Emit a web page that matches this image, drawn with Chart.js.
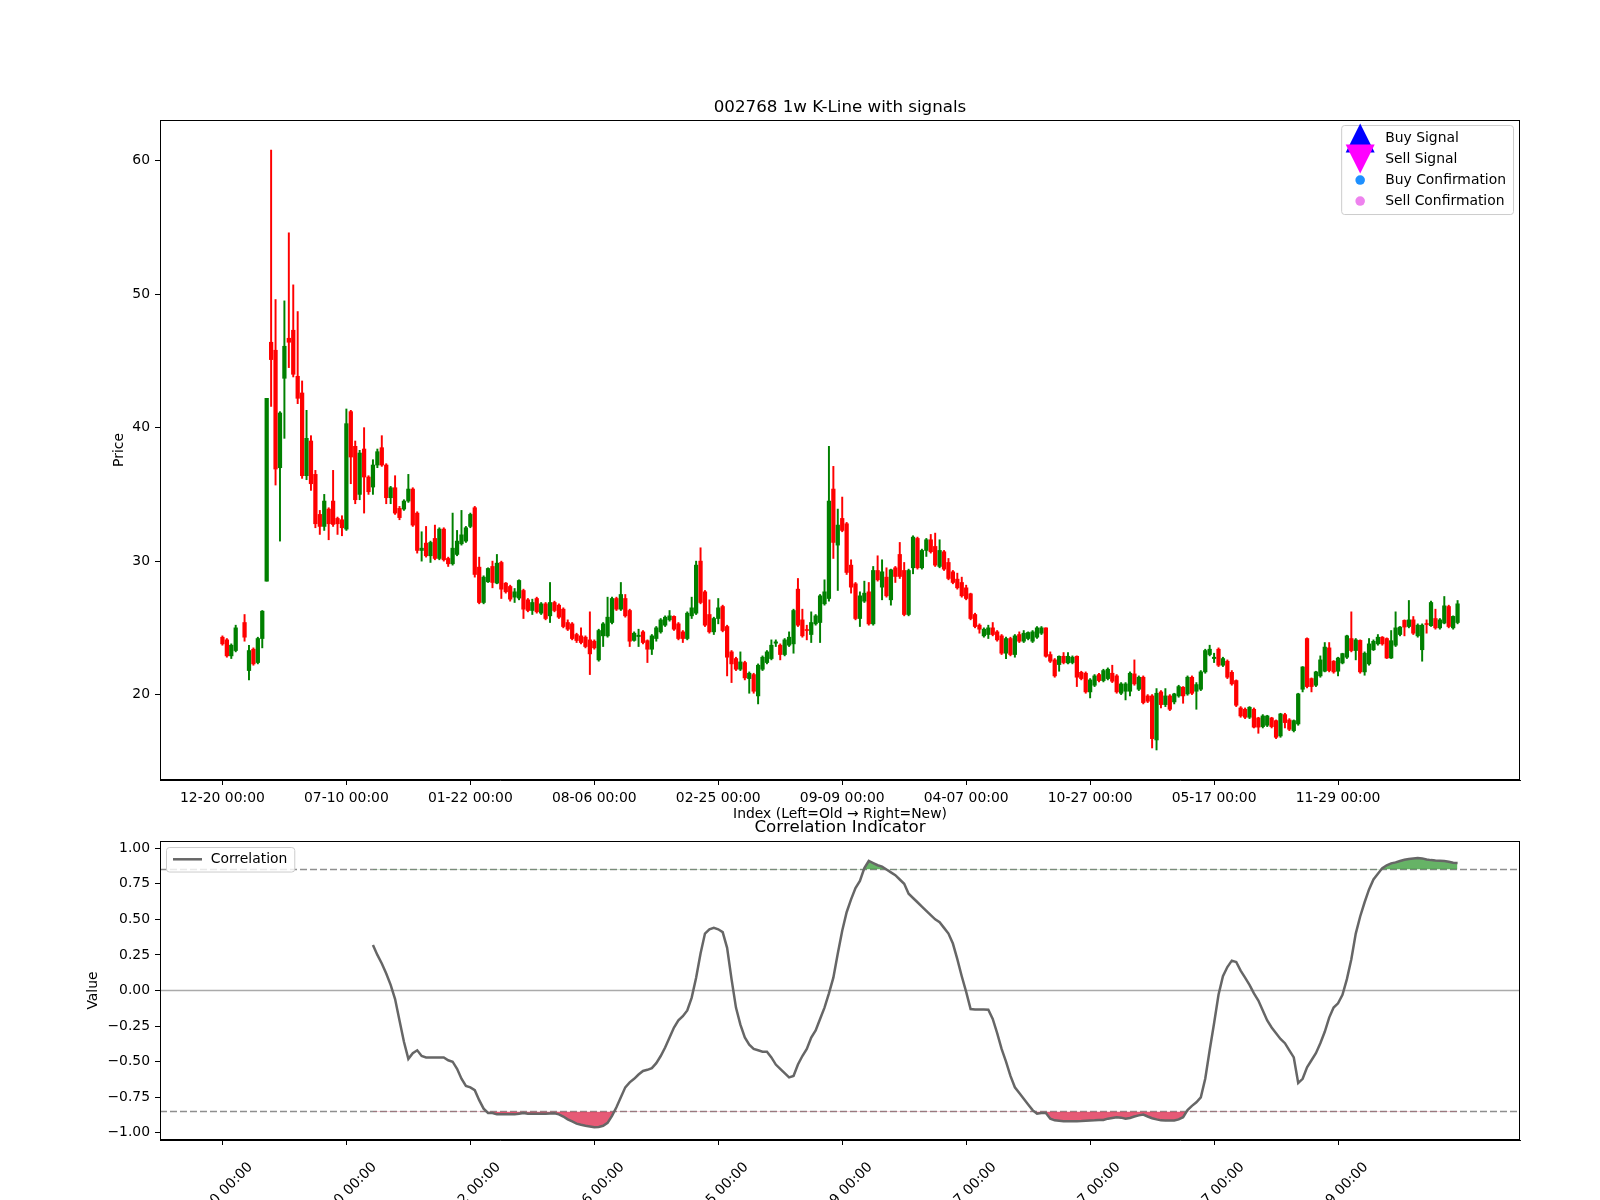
<!DOCTYPE html>
<html>
<head>
<meta charset="utf-8">
<title>002768 1w K-Line with signals</title>
<script src="https://cdn.jsdelivr.net/npm/chart.js@4/dist/chart.umd.min.js"></script>
<style>
  html, body { margin: 0; padding: 0; background: #fff; }
  body { width: 1600px; height: 1200px; overflow: hidden; position: relative; }
  canvas { position: absolute; left: 0; }
  #kline { top: 0; }
  #corr { top: 790px; }
</style>
</head>
<body>
<canvas id="kline" width="1600" height="830"></canvas>
<canvas id="corr" width="1600" height="410"></canvas>
<script>
// weekly candles, index 0 = oldest (null = no trading that week)
const opens = [
  24.3, 24.1, 22.9, 23.3, null, 25.4, 21.8, 23.4, 22.4, 24.2,
  28.5, 46.4, 45.8, 37.0, 43.7, 46.7, 47.3, 43.85, 42.6, 36.4,
  39.0, 36.5, 33.5, 32.6, 33.9, 34.5, 33.2, 33.1, 32.4, 41.2,
  38.6, 35.0, 38.4, 36.3, 35.55, 37.2, 38.5, 37.2, 34.75, 35.5,
  33.95, 33.9, 34.5, 35.4, 33.6, 30.8, 31.35, 30.4, 31.7, 30.2,
  32.4, 30.2, 29.8, 30.5, 31.3, 31.5, 32.6, 34.0, 29.55, 26.9,
  28.45, 29.6, 28.35, 29.9, 28.35, 28.1, 27.3, 27.23, 27.8, 27.1,
  26.3, 27.2, 26.1, 26.8, 25.9, 26.9, 26.7, 26.4, 25.4, 25.3,
  24.5, 24.4, 24.3, 24.1, 24.0, 22.6, 24.4, 24.4, 25.4, 27.2,
  26.4, 27.2, 26.3, 24.06, 24.35, 24.7, 24.04, 23.4, 24.2, 24.7,
  25.2, 25.6, 25.86, 25.3, 24.7, 24.2, 25.9, 26.1, 30.0, 27.7,
  26.0, 24.7, 25.7, 26.6, 25.1, 23.2, 22.7, 21.9, 22.4, 21.2,
  21.5, 19.9, 21.9, 22.4, 22.7, 23.85, 23.7, 23.0, 23.7, 23.8,
  27.9, 25.6, 24.85, 24.5, 25.3, 25.4, 26.8, 27.2, 35.4, 31.2,
  33.2, 32.8, 29.7, 28.3, 25.7, 27.0, 27.7, 25.3, 29.3, 28.05,
  28.8, 27.1, 29.5, 30.5, 29.3, 26.0, 29.5, 31.7, 29.5, 30.8,
  31.6, 31.1, 29.6, 30.7, 29.9, 29.2, 28.65, 28.4, 28.0, 27.55,
  26.0, 25.2, 24.4, 24.5, 25.0, 24.7, 24.4, 23.1, 24.2, 23.0,
  24.5, 24.0, 24.2, 24.0, 24.3, 24.6, 25.0, 23.0, 22.6, 22.25,
  22.87, 22.37, 22.4, 22.87, 21.67, 21.6, 20.2, 20.7, 21.5, 21.05,
  21.2, 21.6, 21.4, 20.1, 20.25, 20.25, 21.55, 20.4, 21.3, 19.9,
  19.9, 16.6, 20.2, 19.25, 19.9, 19.45, 19.9, 20.55, 20.05, 21.3,
  20.25, 20.4, 21.7, 23.0, 22.7, 23.4, 22.2, 22.5, 21.67, 21.05,
  19.0, 18.9, 18.3, 18.9, 18.25, 17.6, 17.7, 18.25, 18.05, 16.9,
  18.5, 18.1, 17.3, 17.8, 20.4, 24.2, 21.2, 20.7, 21.4, 21.75,
  23.5, 22.5, 21.75, 22.37, 22.8, 24.2, 23.3, 24.06, 21.7, 22.3,
  23.36, 23.8, 24.3, 24.2, 22.74, 23.7, 24.5, 25.56, 25.1, 25.6,
  24.4, 23.36, 25.3, 25.16, 25.7, 25.0, 25.36, 26.6, 25.0, 25.4
];
const highs = [
  24.4, 24.2, 23.8, 25.2, null, 26.0, 23.7, 23.5, 24.3, 26.3,
  42.2, 60.8, 49.6, 41.2, 49.5, 54.6, 50.7, 48.7, 43.5, 41.3,
  39.4, 36.8, 33.8, 35.0, 34.0, 36.8, 33.3, 33.4, 41.4, 41.3,
  39.0, 38.3, 40.0, 36.4, 37.6, 38.4, 39.4, 37.3, 35.6, 36.4,
  34.1, 34.6, 36.5, 35.5, 33.7, 32.2, 32.6, 31.5, 32.7, 32.5,
  32.5, 30.3, 33.6, 32.3, 33.8, 32.6, 33.6, 34.1, 30.3, 28.9,
  29.5, 30.0, 30.5, 30.0, 28.4, 28.2, 27.95, 28.6, 27.9, 27.2,
  27.15, 27.3, 26.9, 26.9, 28.4, 27.0, 26.8, 26.5, 25.6, 25.4,
  24.6, 25.0, 24.4, 26.2, 24.1, 24.9, 25.4, 27.3, 27.3, 27.3,
  28.4, 27.5, 26.4, 24.7, 24.9, 24.8, 24.1, 24.5, 25.1, 25.7,
  25.9, 26.3, 25.9, 25.4, 24.8, 26.2, 27.3, 30.0, 31.0, 27.8,
  27.1, 25.8, 27.2, 26.7, 25.2, 23.3, 22.8, 23.2, 22.5, 21.7,
  21.6, 22.3, 22.9, 23.3, 24.1, 24.1, 23.8, 24.2, 24.7, 26.4,
  28.7, 26.4, 25.2, 26.2, 26.0, 27.5, 28.6, 38.6, 37.1, 33.9,
  34.8, 32.9, 30.1, 28.4, 27.7, 28.5, 28.4, 29.6, 30.4, 30.1,
  29.5, 29.4, 29.6, 31.4, 29.9, 29.4, 31.9, 31.8, 30.9, 31.7,
  32.0, 32.1, 31.6, 30.8, 30.2, 29.3, 29.1, 28.8, 28.2, 27.6,
  26.1, 25.3, 25.0, 25.2, 25.4, 24.8, 24.5, 24.3, 24.3, 24.5,
  24.7, 24.8, 24.7, 24.8, 25.1, 25.1, 25.0, 23.2, 22.7, 22.9,
  23.15, 23.15, 22.9, 22.9, 21.75, 21.7, 21.2, 21.5, 21.6, 21.9,
  22.0, 22.2, 21.5, 20.9, 20.9, 21.7, 22.6, 21.4, 21.4, 20.0,
  20.0, 20.45, 20.3, 20.45, 20.0, 20.1, 20.7, 20.6, 21.4, 21.4,
  20.9, 21.8, 23.4, 23.7, 23.1, 23.5, 22.8, 22.6, 21.8, 21.1,
  19.1, 19.0, 19.1, 19.0, 18.3, 18.5, 18.45, 18.3, 18.1, 18.6,
  18.6, 18.2, 18.1, 20.1, 22.1, 24.25, 21.25, 21.75, 22.9, 23.9,
  23.9, 22.55, 22.8, 23.1, 24.45, 26.2, 24.2, 24.1, 23.2, 24.2,
  24.1, 24.5, 24.35, 24.25, 24.8, 26.2, 25.1, 25.6, 27.05, 25.85,
  25.3, 25.3, 25.6, 27.0, 26.4, 25.7, 27.35, 26.7, 25.9, 27.05
];
const lows = [
  23.7, 22.8, 22.7, 23.2, null, 24.0, 21.1, 22.2, 22.3, 23.5,
  28.5, 41.6, 35.7, 31.5, 39.2, 44.5, 43.8, 41.8, 36.2, 36.1,
  35.3, 32.5, 32.0, 32.3, 31.6, 32.6, 32.0, 31.9, 32.3, 35.8,
  34.3, 34.6, 33.6, 35.0, 35.0, 37.0, 37.1, 34.3, 34.3, 33.5,
  33.1, 33.8, 34.4, 32.6, 30.6, 30.0, 30.3, 29.9, 30.1, 30.1,
  30.0, 29.6, 29.7, 30.4, 31.2, 31.4, 32.5, 28.8, 26.8, 26.8,
  28.4, 28.0, 28.3, 27.2, 27.6, 27.0, 26.9, 27.1, 25.7, 26.2,
  26.0, 26.1, 26.0, 25.6, 25.4, 26.2, 25.7, 25.0, 24.8, 24.1,
  23.9, 23.8, 23.5, 21.5, 23.4, 22.5, 23.6, 24.3, 25.3, 26.3,
  26.3, 25.8, 23.6, 24.0, 23.6, 23.8, 22.4, 23.0, 24.0, 24.6,
  25.1, 25.5, 24.8, 24.1, 23.9, 24.1, 25.7, 26.0, 26.8, 25.1,
  24.6, 24.5, 25.3, 24.7, 21.4, 20.9, 21.8, 21.8, 21.1, 20.1,
  20.1, 19.3, 21.8, 22.3, 22.6, 23.6, 22.6, 22.9, 23.6, 23.1,
  25.1, 24.3, 24.1, 23.9, 25.2, 23.9, 26.7, 27.0, 30.2, 27.8,
  32.2, 29.0, 27.6, 25.6, 25.1, 26.9, 25.2, 25.2, 28.5, 27.1,
  27.3, 26.7, 28.4, 28.7, 25.9, 25.9, 29.05, 29.4, 29.4, 30.35,
  30.6, 29.6, 29.5, 29.3, 28.6, 28.3, 27.9, 27.3, 27.1, 25.6,
  25.0, 24.6, 24.3, 24.2, 24.4, 24.0, 23.0, 22.7, 22.9, 22.8,
  23.9, 23.9, 24.1, 23.9, 24.2, 24.5, 22.8, 22.4, 21.3, 21.75,
  22.3, 22.3, 22.3, 20.6, 21.1, 20.1, 19.75, 20.6, 20.95, 20.95,
  21.1, 20.9, 20.1, 20.0, 19.6, 19.9, 20.7, 20.3, 19.3, 19.4,
  16.0, 15.85, 19.0, 19.1, 18.8, 19.3, 19.8, 19.35, 19.95, 20.0,
  18.9, 20.3, 21.6, 22.9, 22.4, 22.1, 22.1, 21.2, 20.7, 19.1,
  18.3, 18.2, 18.2, 17.5, 17.1, 17.5, 17.6, 17.5, 16.7, 16.8,
  17.5, 17.3, 17.2, 17.7, 20.2, 20.5, 20.2, 20.6, 21.3, 21.7,
  21.7, 21.6, 21.4, 22.3, 22.7, 23.2, 22.6, 21.6, 21.45, 22.2,
  23.3, 23.7, 23.7, 22.7, 22.7, 23.6, 24.4, 24.4, 25.0, 24.5,
  24.3, 22.5, 24.6, 25.1, 24.9, 24.9, 25.3, 25.0, 24.9, 25.3
];
const closes = [
  23.8, 22.9, 23.7, 25.0, null, 24.3, 23.3, 22.3, 24.2, 26.25,
  42.2, 45.1, 36.9, 41.1, 46.1, 46.4, 44.0, 42.2, 36.4, 39.2,
  35.8, 32.8, 32.6, 34.5, 32.8, 32.75, 32.8, 32.5, 40.3, 37.8,
  34.6, 38.1, 36.3, 35.2, 37.2, 38.2, 37.2, 34.75, 35.5, 33.6,
  33.26, 34.5, 35.4, 32.7, 30.8, 30.97, 30.4, 31.4, 30.2, 32.4,
  30.1, 29.8, 30.97, 31.5, 31.97, 32.5, 33.5, 29.0, 26.9, 28.8,
  29.45, 28.4, 29.85, 27.9, 27.7, 27.15, 27.7, 28.55, 26.4, 26.3,
  26.9, 26.2, 26.8, 25.7, 26.9, 26.3, 25.8, 25.1, 24.9, 24.2,
  24.05, 23.9, 23.6, 23.05, 23.5, 24.8, 25.3, 25.8, 27.2, 26.4,
  27.5, 25.9, 24.0, 24.6, 24.45, 23.9, 23.4, 24.4, 25.0, 25.6,
  25.8, 25.9, 24.9, 24.2, 24.2, 26.1, 26.5, 29.7, 26.9, 25.2,
  24.7, 25.7, 26.5, 24.8, 22.8, 22.3, 21.9, 22.45, 21.25, 21.6,
  20.25, 22.2, 22.8, 23.2, 23.7, 23.95, 23.0, 24.1, 24.3, 26.3,
  25.2, 24.4, 24.8, 25.4, 25.9, 27.4, 27.7, 34.5, 31.4, 32.7,
  32.3, 29.15, 28.05, 25.7, 27.4, 27.6, 25.3, 29.3, 28.6, 29.2,
  27.4, 29.35, 28.85, 28.85, 26.0, 29.3, 31.8, 29.5, 30.8, 31.6,
  30.7, 29.7, 30.8, 29.4, 28.7, 28.4, 28.0, 27.4, 27.2, 25.7,
  25.1, 24.9, 24.9, 25.0, 24.5, 24.1, 23.1, 24.2, 23.0, 24.4,
  24.0, 24.6, 24.65, 24.7, 25.0, 25.0, 22.87, 22.5, 21.4, 22.87,
  22.4, 22.87, 22.8, 21.3, 21.2, 20.2, 21.1, 21.4, 21.05, 21.8,
  21.9, 21.0, 20.2, 20.8, 20.8, 21.6, 20.8, 21.3, 19.4, 19.5,
  16.7, 20.1, 19.25, 19.9, 18.9, 20.05, 20.6, 19.9, 21.3, 20.1,
  20.75, 21.7, 23.3, 23.4, 22.8, 22.2, 22.7, 21.3, 20.8, 19.2,
  18.4, 18.3, 19.05, 17.56, 17.56, 18.4, 18.4, 17.6, 16.8, 18.55,
  17.9, 17.4, 18.05, 20.05, 22.07, 20.6, 20.6, 21.7, 22.6, 23.56,
  21.8, 21.7, 22.74, 23.07, 24.4, 23.3, 24.1, 21.7, 23.1, 23.8,
  23.99, 24.3, 23.8, 22.74, 24.04, 25.0, 25.06, 25.06, 25.6, 24.6,
  25.2, 25.2, 25.25, 26.9, 25.0, 25.6, 26.65, 25.1, 25.86, 26.8
];

// correlation indicator, first value belongs to candle index corrStart
const corrStart = 34;
const corrValues = [
  0.32, 0.25, 0.19, 0.12, 0.04, -0.06, -0.21, -0.36, -0.48, -0.44,
  -0.42, -0.46, -0.47, -0.47, -0.47, -0.47, -0.47, -0.49, -0.50, -0.55,
  -0.62, -0.67, -0.68, -0.70, -0.77, -0.83, -0.86, -0.86, -0.87, -0.87,
  -0.87, -0.87, -0.87, -0.865, -0.86, -0.865, -0.866, -0.866, -0.866, -0.866,
  -0.864, -0.862, -0.87, -0.885, -0.905, -0.92, -0.935, -0.943, -0.95, -0.955,
  -0.96, -0.958, -0.95, -0.93, -0.88, -0.82, -0.75, -0.68, -0.645, -0.62,
  -0.59, -0.565, -0.557, -0.545, -0.51, -0.46, -0.40, -0.33, -0.26, -0.21,
  -0.18, -0.14, -0.05, 0.09, 0.26, 0.40, 0.43, 0.44, 0.43, 0.41,
  0.30, 0.08, -0.12, -0.24, -0.33, -0.38, -0.41, -0.42, -0.43, -0.43,
  -0.47, -0.52, -0.55, -0.58, -0.61, -0.60, -0.52, -0.46, -0.41, -0.33,
  -0.28, -0.20, -0.12, -0.02, 0.09, 0.26, 0.42, 0.55, 0.64, 0.72,
  0.77, 0.86, 0.91, 0.895, 0.88, 0.87, 0.85, 0.83, 0.81, 0.78,
  0.75, 0.68, 0.65, 0.62, 0.59, 0.56, 0.53, 0.50, 0.48, 0.44,
  0.40, 0.33, 0.22, 0.10, -0.01, -0.13, -0.133, -0.133, -0.133, -0.135,
  -0.20, -0.30, -0.41, -0.50, -0.60, -0.68, -0.72, -0.76, -0.80, -0.84,
  -0.865, -0.86, -0.86, -0.90, -0.912, -0.915, -0.918, -0.918, -0.918, -0.918,
  -0.917, -0.915, -0.913, -0.912, -0.91, -0.909, -0.90, -0.895, -0.89, -0.893,
  -0.90, -0.895, -0.885, -0.877, -0.871, -0.885, -0.897, -0.905, -0.912, -0.913,
  -0.913, -0.913, -0.905, -0.89, -0.84, -0.81, -0.785, -0.75, -0.62, -0.42,
  -0.23, -0.03, 0.10, 0.165, 0.21, 0.20, 0.14, 0.09, 0.04, -0.02,
  -0.07, -0.14, -0.21, -0.26, -0.30, -0.34, -0.37, -0.42, -0.47, -0.65,
  -0.62, -0.54, -0.49, -0.44, -0.37, -0.29, -0.19, -0.12, -0.09, -0.03,
  0.08, 0.22, 0.40, 0.52, 0.62, 0.71, 0.78, 0.82, 0.86, 0.88,
  0.893, 0.90, 0.91, 0.918, 0.924, 0.928, 0.93, 0.928, 0.92, 0.916,
  0.913, 0.911, 0.909, 0.905, 0.897, 0.895
];
const upperThreshold = 0.85;
const lowerThreshold = -0.85;

// x ticks are candle indices, labelled with the week date
const tickPositions = [0, 28, 56, 84, 112, 140, 168, 196, 224, 252];
const tickLabels = ['12-20 00:00', '07-10 00:00', '01-22 00:00', '08-06 00:00', '02-25 00:00',
                    '09-09 00:00', '04-07 00:00', '10-27 00:00', '05-17 00:00', '11-29 00:00'];
const priceTicks = [20, 30, 40, 50, 60];
const corrTicks = [-1, -0.75, -0.5, -0.25, 0, 0.25, 0.5, 0.75, 1];

const upColor = '#008000';
const downColor = '#ff0000';
const xMin = -14.1, xMax = 293.1;

Chart.defaults.font.family = '"DejaVu Sans", sans-serif';
Chart.defaults.font.size = 13.9;
Chart.defaults.color = '#000';

// build candle pieces: wick = [low, high], body = [open, close]
const wickData = [], bodyData = [], candleColors = [];
for (let i = 0; i < opens.length; i++) {
  if (opens[i] == null) continue;
  wickData.push({ x: i, y: [lows[i], highs[i]] });
  bodyData.push({ x: i, y: [opens[i], closes[i]] });
  candleColors.push(closes[i] >= opens[i] ? upColor : downColor);
}
const corrPoints = corrValues.map((v, k) => ({ x: corrStart + k, y: v }));

// black box round the plot area
const frame = {
  id: 'frame',
  afterDatasetsDraw(chart) {
    const a = chart.chartArea, ctx = chart.ctx;
    ctx.save();
    ctx.strokeStyle = '#000';
    ctx.lineWidth = 1;
    ctx.strokeRect(Math.round(a.left) + 0.5, Math.round(a.top) + 0.5,
                   Math.round(a.right - a.left) - 1, Math.round(a.bottom - a.top) - 1);
    ctx.restore();
  }
};

// horizontal reference lines (threshold dashes, zero line)
const refLines = {
  id: 'refLines',
  beforeDatasetsDraw(chart, args, opts) {
    if (!opts.lines) return;
    const a = chart.chartArea, ctx = chart.ctx, ys = chart.scales.y;
    ctx.save();
    opts.lines.forEach(l => {
      const y = ys.getPixelForValue(l.value);
      ctx.beginPath();
      ctx.strokeStyle = l.color;
      ctx.lineWidth = l.width;
      ctx.setLineDash(l.dash || []);
      ctx.moveTo(a.left, y);
      ctx.lineTo(a.right, y);
      ctx.stroke();
    });
    ctx.restore();
  }
};

// matplotlib-like legend box drawn inside the plot area
const boxLegend = {
  id: 'boxLegend',
  afterDraw(chart, args, opts) {
    if (!opts.items) return;
    const a = chart.chartArea, ctx = chart.ctx;
    ctx.save();
    ctx.font = '13.9px "DejaVu Sans"';
    const textW = Math.max(...opts.items.map(it => ctx.measureText(it.text).width));
    const w = opts.textX + textW + 7;
    const h = opts.items.length * opts.rowH + opts.padY * 2;
    const x = opts.side === 'right' ? a.right - opts.insetX - w : a.left + opts.insetX;
    const y = a.top + opts.insetY;
    ctx.beginPath();
    ctx.roundRect(x + 0.5, y + 0.5, w, h, 3);
    ctx.fillStyle = 'rgba(255,255,255,0.8)';
    ctx.fill();
    ctx.strokeStyle = '#cccccc';
    ctx.lineWidth = 1;
    ctx.stroke();
    opts.items.forEach((it, k) => {
      const cy = y + opts.padY + opts.rowH * (k + 0.5);
      const cx = x + opts.handleX;
      ctx.fillStyle = it.color;
      ctx.beginPath();
      if (it.kind === 'up') {
        ctx.moveTo(cx, cy - 14.5); ctx.lineTo(cx + 14.5, cy + 14.5); ctx.lineTo(cx - 14.5, cy + 14.5);
        ctx.closePath(); ctx.fill();
      } else if (it.kind === 'down') {
        ctx.moveTo(cx - 14.5, cy - 14.5); ctx.lineTo(cx + 14.5, cy - 14.5); ctx.lineTo(cx, cy + 14.5);
        ctx.closePath(); ctx.fill();
      } else if (it.kind === 'dot') {
        ctx.arc(cx, cy, 4.8, 0, Math.PI * 2); ctx.fill();
      } else {
        ctx.strokeStyle = it.color; ctx.lineWidth = 2.5;
        ctx.moveTo(cx - 14.5, cy); ctx.lineTo(cx + 14.5, cy); ctx.stroke();
      }
      ctx.fillStyle = '#000';
      ctx.textAlign = 'left';
      ctx.textBaseline = 'middle';
      ctx.fillText(it.text, x + opts.textX, cy);
    });
    ctx.restore();
  }
};

const axisGrid = { drawOnChartArea: false, drawTicks: true, offset: false, tickLength: 5, tickColor: '#000', tickWidth: 1 };
const axisBorder = { display: true, color: '#000', width: 1 };
const setTicks = list => scale => { scale.ticks = list.map(v => ({ value: v })); };
const dateLabel = v => tickLabels[tickPositions.indexOf(v)];

new Chart(document.getElementById('kline'), {
  type: 'bar',
  data: {
    datasets: [
      { label: 'Wick', data: wickData, backgroundColor: candleColors, barThickness: 1.3, grouped: false, order: 2 },
      { label: 'Body', data: bodyData, backgroundColor: candleColors, barThickness: 3.6, grouped: false, minBarLength: 1, order: 1 }
    ]
  },
  options: {
    responsive: false,
    animation: false,
    devicePixelRatio: 1,
    layout: { padding: { left: 0, right: 80, top: 0, bottom: 0 } },
    plugins: {
      legend: { display: false },
      tooltip: { enabled: false },
      title: {
        display: true, fullSize: false, text: '002768 1w K-Line with signals', color: '#000',
        font: { size: 16.7, weight: 'normal' }, padding: { top: 98, bottom: 2 }
      },
      boxLegend: {
        side: 'right', insetX: 7, insetY: 5, rowH: 21, padY: 2.5, handleX: 19, textX: 44,
        items: [
          { kind: 'up', color: '#0000ff', text: 'Buy Signal' },
          { kind: 'down', color: '#ff00ff', text: 'Sell Signal' },
          { kind: 'dot', color: '#1e90ff', text: 'Buy Confirmation' },
          { kind: 'dot', color: '#ee82ee', text: 'Sell Confirmation' }
        ]
      }
    },
    scales: {
      x: {
        type: 'linear', min: xMin, max: xMax, offset: false,
        afterBuildTicks: setTicks(tickPositions),
        afterFit: s => { s.height = 50; },
        ticks: { autoSkip: false, maxRotation: 0, padding: 5, callback: dateLabel },
        grid: axisGrid, border: axisBorder,
        title: { display: true, text: 'Index (Left=Old \u2192 Right=New)', padding: { top: 0, bottom: 7.3 } }
      },
      y: {
        type: 'linear', min: 13.6, max: 63.05,
        afterBuildTicks: setTicks(priceTicks),
        afterFit: s => { s.width = 160; },
        ticks: { padding: 5, callback: v => String(v) },
        grid: axisGrid, border: axisBorder,
        title: { display: true, text: 'Price', padding: { top: 111, bottom: 0 } }
      }
    }
  },
  plugins: [frame, boxLegend]
});

new Chart(document.getElementById('corr'), {
  type: 'line',
  data: {
    datasets: [
      {
        label: 'Correlation', data: corrPoints, borderColor: '#666666', borderWidth: 2.5,
        pointRadius: 0, tension: 0, order: 0,
        fill: { target: { value: upperThreshold }, above: 'rgba(0,128,0,0.6)', below: 'rgba(0,0,0,0)' }
      },
      {
        label: 'Low zone', data: corrPoints, borderColor: 'rgba(0,0,0,0)', borderWidth: 0,
        pointRadius: 0, tension: 0, order: 1,
        fill: { target: { value: lowerThreshold }, above: 'rgba(0,0,0,0)', below: 'rgba(220,20,60,0.7)' }
      }
    ]
  },
  options: {
    responsive: false,
    animation: false,
    devicePixelRatio: 1,
    layout: { padding: { left: 0, right: 80, top: 0, bottom: 0 } },
    plugins: {
      legend: { display: false },
      tooltip: { enabled: false },
      title: {
        display: true, fullSize: false, text: 'Correlation Indicator', color: '#000',
        font: { size: 16.7, weight: 'normal' }, padding: { top: 27.5, bottom: 3.5 }
      },
      refLines: {
        lines: [
          { value: upperThreshold, color: '#8f8f8f', width: 1.5, dash: [7, 3] },
          { value: lowerThreshold, color: '#8f8f8f', width: 1.5, dash: [7, 3] },
          { value: 0, color: '#aaaaaa', width: 1.5 }
        ]
      },
      boxLegend: {
        side: 'left', insetX: 6, insetY: 6, rowH: 21, padY: 1.75, handleX: 21.5, textX: 44.7,
        items: [{ kind: 'line', color: '#666666', text: 'Correlation' }]
      }
    },
    scales: {
      x: {
        type: 'linear', min: xMin, max: xMax, offset: false,
        afterBuildTicks: setTicks(tickPositions),
        afterFit: s => { s.height = 60; },
        ticks: { autoSkip: false, minRotation: 45, maxRotation: 45, labelOffset: 28, padding: 14, callback: dateLabel },
        grid: axisGrid, border: axisBorder
      },
      y: {
        type: 'linear', min: -1.05, max: 1.05,
        afterBuildTicks: setTicks(corrTicks),
        afterFit: s => { s.width = 160; },
        ticks: { padding: 5, callback: v => (v < 0 ? '\u2212' : '') + Math.abs(v).toFixed(2) },
        grid: axisGrid, border: axisBorder,
        title: { display: true, text: 'Value', padding: { top: 85.5, bottom: 0 } }
      }
    }
  },
  plugins: [refLines, frame, boxLegend]
});
</script>
</body>
</html>
